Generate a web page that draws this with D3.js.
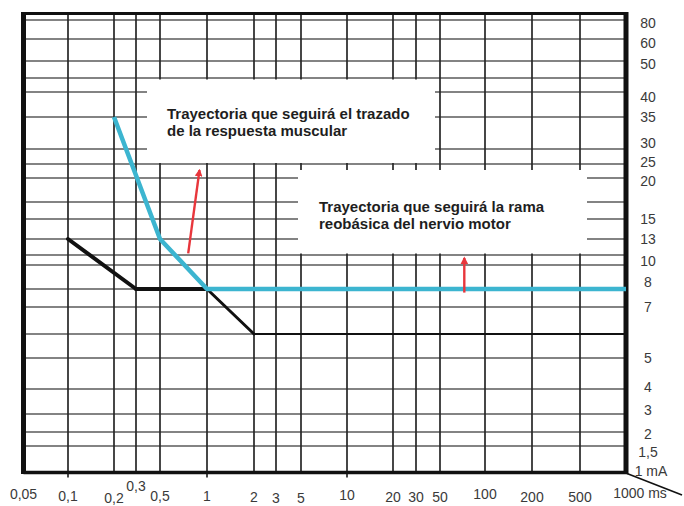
<!DOCTYPE html>
<html>
<head>
<meta charset="utf-8">
<script src="https://cdn.jsdelivr.net/npm/d3@7/dist/d3.min.js"></script>
<style>
  html, body { margin: 0; padding: 0; background: #fff; }
  svg { display: block; }
</style>
</head>
<body>
<svg id="chart" width="684" height="506"></svg>
<script>
// ---------------- DATA ----------------
const xTicks  = [0.05, 0.1, 0.2, 0.3, 0.5, 1, 2, 3, 5, 10, 20, 30, 50, 100, 200, 500, 1000];
const xLabels = ["0,05", "0,1", "0,2", "0,3", "0,5", "1", "2", "3", "5", "10", "20", "30", "50", "100", "200", "500", "1000 ms"];

const yGrid   = [80, 60, 50, 45, 40, 35, 30, 25, 20, 17, 15, 13, 12, 10, 8, 7, 6, 5, 4, 3, 2, 1.5, 1];
const yTicks  = [80, 60, 50, 40, 35, 30, 25, 20, 15, 13, 10, 8, 7, 5, 4, 3, 2, 1.5, 1];
const yLabels = ["80", "60", "50", "40", "35", "30", "25", "20", "15", "13", "10", "8", "7", "5", "4", "3", "2", "1,5", "1 mA"];

// black curve (nervio motor) and cyan curve (respuesta muscular): [ms, mA]
const blackX = [0.1, 0.3, 1, 2, 1000];
const blackY = [13, 8, 8, 6, 6];
const cyanX  = [0.2, 0.5, 1, 1000];
const cyanY  = [35, 13, 8, 8];

// red arrows: [fromX, fromY, toX, toY]
const arrows = [
  [0.8, 12.1, 0.92, 22.8],
  [77, 7.8, 77, 11.4]
];

const note1 = ["Trayectoria que seguirá el trazado", "de la respuesta muscular"];
const note2 = ["Trayectoria que seguirá la rama", "reobásica del nervio motor"];

// ---------------- LAYOUT ----------------
const svg = d3.select("#chart");
const pL = 23.5, pR = 626, pT = 13.5, pB = 472.5;

const x = d3.scaleLinear()
  .domain(xTicks)
  .range([pL, 68, 114, 136, 160, 207, 254, 276, 301, 347, 393, 416, 440, 485, 532, 580, pR]);

const y = d3.scaleLinear()
  .domain(yGrid)
  .range([20, 39, 61, 78, 92, 117, 149, 164, 178, 202, 219, 239, 255, 265, 289, 307, 334, 358, 389, 414, 432, 446, pB]);

// grid
const grid = svg.append("g");
grid.selectAll("line.h")
  .data(yGrid.filter(v => v !== 1))
  .join("line")
  .attr("x1", pL).attr("x2", pR)
  .attr("y1", d => y(d)).attr("y2", d => y(d))
  .attr("stroke", "#5a5a5a").attr("stroke-width", 1.5);

const majors = [0.1, 1, 10];
grid.selectAll("line.v")
  .data(xTicks.filter(v => v !== 0.05 && v !== 1000))
  .join("line")
  .attr("x1", d => x(d)).attr("x2", d => x(d))
  .attr("y1", pT).attr("y2", d => majors.includes(d) ? pB + 5 : pB)
  .attr("stroke", "#262626").attr("stroke-width", 1.7);

// white note boxes covering grid
svg.append("rect").attr("x", 147).attr("y", 79.5).attr("width", 288).attr("height", 83.5).attr("fill", "#fff");
svg.append("rect").attr("x", 298).attr("y", 170).attr("width", 289).attr("height", 83.5).attr("fill", "#fff");

// frame
svg.append("line").attr("x1", pL).attr("x2", pR).attr("y1", pT).attr("y2", pT)
  .attr("stroke", "#111").attr("stroke-width", 3);
svg.append("line").attr("x1", pL).attr("x2", pR + 2).attr("y1", pB).attr("y2", pB)
  .attr("stroke", "#111").attr("stroke-width", 3.5);
svg.append("line").attr("x1", pL).attr("x2", pL).attr("y1", pT - 1.5).attr("y2", pB + 1.5)
  .attr("stroke", "#111").attr("stroke-width", 5);
svg.append("line").attr("x1", pR).attr("x2", pR).attr("y1", pT - 1.5).attr("y2", pB + 1.5)
  .attr("stroke", "#111").attr("stroke-width", 5);
svg.append("line").attr("x1", pR + 1).attr("y1", pB + 1).attr("x2", 682).attr("y2", 495)
  .attr("stroke", "#111").attr("stroke-width", 1.6);

// black curve, segment widths decreasing
const bw = [4, 4, 3, 2];
const blackSegs = d3.range(blackX.length - 1).map(i => ({x1: blackX[i], y1: blackY[i], x2: blackX[i+1], y2: blackY[i+1], w: bw[i]}));
svg.append("g").selectAll("line")
  .data(blackSegs)
  .join("line")
  .attr("x1", d => x(d.x1)).attr("y1", d => y(d.y1))
  .attr("x2", d => x(d.x2)).attr("y2", d => y(d.y2))
  .attr("stroke", "#111").attr("stroke-width", d => d.w).attr("stroke-linecap", "round");

// cyan curve
const line = d3.line().x(d => x(d[0])).y(d => y(d[1]));
svg.append("path")
  .datum(cyanX.map((v, i) => [v, cyanY[i]]))
  .attr("d", line)
  .attr("fill", "none")
  .attr("stroke", "#3cb5d0")
  .attr("stroke-width", 4.5)
  .attr("stroke-linejoin", "round");

// arrows
const defs = svg.append("defs");
defs.append("marker")
  .attr("id", "ah").attr("viewBox", "0 0 10 10")
  .attr("refX", 8).attr("refY", 5)
  .attr("markerWidth", 3.2).attr("markerHeight", 3.2)
  .attr("markerUnits", "strokeWidth")
  .attr("orient", "auto")
  .append("path").attr("d", "M0,0 L10,5 L0,10 Z").attr("fill", "#e8363c");
svg.append("g").selectAll("line")
  .data(arrows)
  .join("line")
  .attr("x1", d => x(d[0])).attr("y1", d => y(d[1]))
  .attr("x2", d => x(d[2])).attr("y2", d => y(d[3]))
  .attr("stroke", "#e8363c").attr("stroke-width", 2.4)
  .attr("marker-end", "url(#ah)");

// notes
const noteFont = "'Liberation Sans', Arial, Helvetica, sans-serif";
function note(lines, x0, y0) {
  svg.append("g").selectAll("text")
    .data(lines)
    .join("text")
    .attr("x", x0).attr("y", (d, i) => y0 + i * 17)
    .attr("font-family", noteFont)
    .attr("font-weight", "bold")
    .attr("font-size", 15)
    .attr("fill", "#1e1e1e")
    .text(d => d);
}
note(note1, 167, 119);
note(note2, 319, 212);

// x labels
const xDy = {"0,05": -4, "0,1": -2, "0,2": 0, "0,3": -12, "0,5": -2, "1": -2, "2": -1, "3": 0, "5": 0, "10": -3, "20": -1, "30": -1, "50": -1, "100": -4, "200": -1, "500": -1, "1000 ms": -5};
svg.append("g").selectAll("text")
  .data(xTicks.map((v, i) => ({v, t: xLabels[i]})))
  .join("text")
  .attr("x", d => x(d.v) + (d.v === 1000 ? 14 : 0))
  .attr("y", d => 498 + (xDy[d.t] || 0))
  .attr("text-anchor", "middle")
  .attr("dominant-baseline", "central")
  .attr("font-family", noteFont)
  .attr("font-size", 14)
  .attr("fill", "#3a3a3a")
  .text(d => d.t);

// y labels
const yDy = {80: 3, 60: 4, 50: 3, 40: 5, 30: -6, 25: -2, 20: 3, 10: -4, 8: -7, 4: -2, 3: -4, 2: 2, 1.5: 6, 1: -1.5};
svg.append("g").selectAll("text")
  .data(yTicks.map((v, i) => ({v, t: yLabels[i]})))
  .join("text")
  .attr("x", d => d.v === 1 ? 651 : 648)
  .attr("y", d => y(d.v) + (yDy[d.v] || 0))
  .attr("text-anchor", "middle")
  .attr("dominant-baseline", "central")
  .attr("font-family", noteFont)
  .attr("font-size", 14)
  .attr("fill", "#3a3a3a")
  .text(d => d.t);
</script>
</body>
</html>
